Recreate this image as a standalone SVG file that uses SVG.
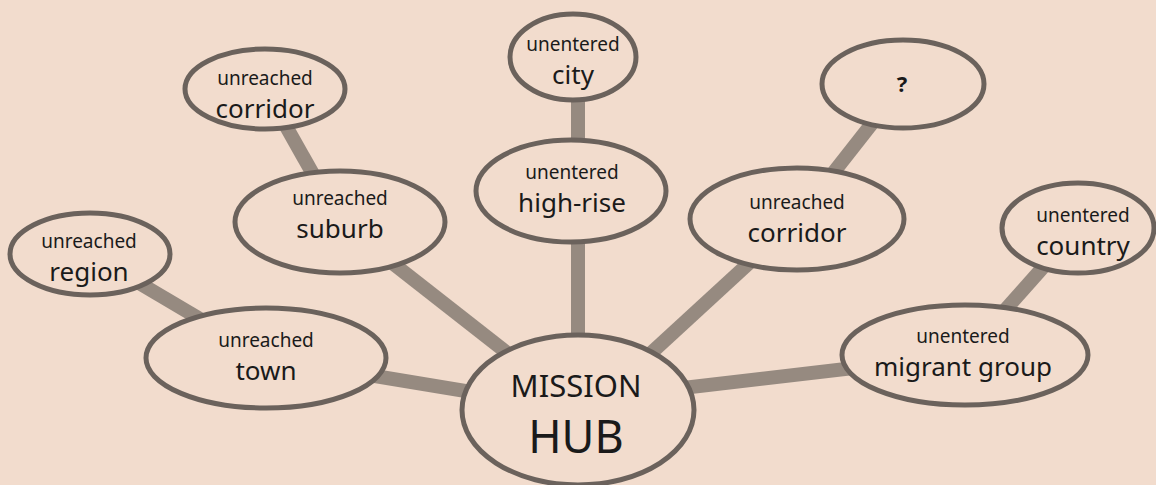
<svg xmlns="http://www.w3.org/2000/svg" width="1156" height="485" viewBox="0 0 1156 485">
<style>
.n{fill:#f2dccd;stroke:#6b625c;stroke-width:5}
.c{stroke:#968a80;stroke-width:14;fill:none}
.s{font-family:"Noto Sans","Liberation Sans",sans-serif;font-size:19px;fill:#1a1a1a;text-anchor:middle}
.b{font-family:"Noto Sans","Liberation Sans",sans-serif;font-size:26px;fill:#1a1a1a;text-anchor:middle}
</style>
<rect width="1156" height="485" fill="#f2dccd"/>
<g id="connectors">
<line class="c" x1="266" y1="358" x2="580" y2="410"/>
<line class="c" x1="90" y1="254" x2="266" y2="358"/>
<line class="c" x1="340" y1="222" x2="580" y2="410"/>
<line class="c" x1="265" y1="89" x2="340" y2="222"/>
<line class="c" x1="578" y1="190" x2="578" y2="410"/>
<line class="c" x1="578" y1="57" x2="578" y2="190"/>
<line class="c" x1="797" y1="219" x2="600" y2="400"/>
<line class="c" x1="903" y1="84" x2="797" y2="219"/>
<line class="c" x1="965" y1="355" x2="580" y2="400"/>
<line class="c" x1="1078" y1="228" x2="965" y2="355"/>
</g>
<g id="region"><ellipse class="n" cx="90" cy="254" rx="80" ry="41"/><text class="s" x="89" y="248">unreached</text><text class="b" x="89" y="281">region</text></g>
<g id="corridor-left"><ellipse class="n" cx="265" cy="89" rx="80" ry="40"/><text class="s" x="265" y="85">unreached</text><text class="b" x="265" y="118">corridor</text></g>
<g id="suburb"><ellipse class="n" cx="340" cy="222" rx="105" ry="51"/><text class="s" x="340" y="205">unreached</text><text class="b" x="340" y="238">suburb</text></g>
<g id="town"><ellipse class="n" cx="266" cy="358" rx="120" ry="50"/><text class="s" x="266" y="347">unreached</text><text class="b" x="266" y="380">town</text></g>
<g id="high-rise"><ellipse class="n" cx="571" cy="191" rx="95" ry="51"/><text class="s" x="572" y="179">unentered</text><text class="b" x="572" y="212">high-rise</text></g>
<g id="city"><ellipse class="n" cx="573" cy="57" rx="63" ry="43"/><text class="s" x="573" y="51">unentered</text><text class="b" x="573" y="84">city</text></g>
<g id="unknown"><ellipse class="n" cx="903" cy="84" rx="81" ry="44"/><text class="s" x="902" y="92" style="font-weight:bold;font-size:22px">?</text></g>
<g id="corridor-right"><ellipse class="n" cx="797" cy="219" rx="107" ry="51"/><text class="s" x="797" y="209">unreached</text><text class="b" x="797" y="242">corridor</text></g>
<g id="country"><ellipse class="n" cx="1078" cy="228" rx="76" ry="45"/><text class="s" x="1083" y="222">unentered</text><text class="b" x="1083" y="255">country</text></g>
<g id="migrant-group"><ellipse class="n" cx="965" cy="355" rx="123" ry="50"/><text class="s" x="963" y="343">unentered</text><text class="b" x="963" y="376">migrant group</text></g>
<g id="hub"><ellipse class="n" cx="578" cy="410" rx="116" ry="75"/><text class="b" x="576" y="397" style="font-size:31px">MISSION</text><text class="b" x="576" y="453" style="font-size:45px">HUB</text></g>
</svg>
